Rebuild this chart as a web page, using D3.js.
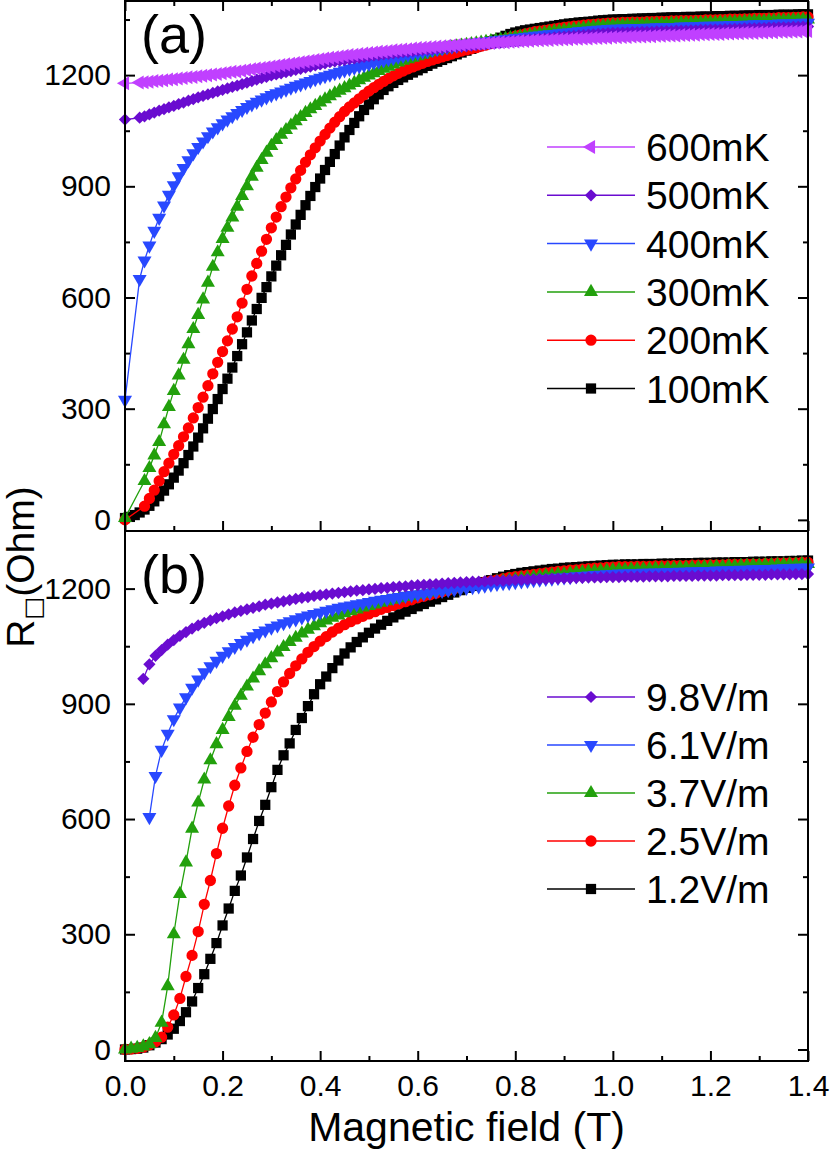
<!DOCTYPE html>
<html>
<head>
<meta charset="utf-8">
<script src="https://cdn.jsdelivr.net/npm/d3@7"></script>
<style>
  body { margin: 0; background: #fff; }
  svg text { font-family: "Liberation Sans", Arial, Helvetica, sans-serif; fill: #000; }
</style>
</head>
<body>
<svg id="chart" width="830" height="1154"></svg>
<script>
// ---------------------------------------------------------------------------
// Data (field in T, resistance in Ohm; null = no point)
// ---------------------------------------------------------------------------

// panel (a): temperature series
const fieldA = [
    0, 0.01, 0.02, 0.03, 0.04, 0.05, 0.06, 0.07, 0.08, 0.09,
    0.10, 0.11, 0.12, 0.13, 0.14, 0.15, 0.16, 0.17, 0.18, 0.19,
    0.20, 0.21, 0.22, 0.23, 0.24, 0.25, 0.26, 0.27, 0.28, 0.29,
    0.30, 0.31, 0.32, 0.33, 0.34, 0.35, 0.36, 0.37, 0.38, 0.39,
    0.40, 0.41, 0.42, 0.43, 0.44, 0.45, 0.46, 0.47, 0.48, 0.49,
    0.50, 0.51, 0.52, 0.53, 0.54, 0.55, 0.56, 0.57, 0.58, 0.59,
    0.60, 0.61, 0.62, 0.63, 0.64, 0.65, 0.66, 0.67, 0.68, 0.69,
    0.70, 0.71, 0.72, 0.73, 0.74, 0.75, 0.76, 0.77, 0.78, 0.79,
    0.80, 0.81, 0.82, 0.83, 0.84, 0.85, 0.86, 0.87, 0.88, 0.89,
    0.90, 0.91, 0.92, 0.93, 0.94, 0.95, 0.96, 0.97, 0.98, 0.99,
    1.00, 1.01, 1.02, 1.03, 1.04, 1.05, 1.06, 1.07, 1.08, 1.09,
    1.10, 1.11, 1.12, 1.13, 1.14, 1.15, 1.16, 1.17, 1.18, 1.19,
    1.20, 1.21, 1.22, 1.23, 1.24, 1.25, 1.26, 1.27, 1.28, 1.29,
    1.30, 1.31, 1.32, 1.33, 1.34, 1.35, 1.36, 1.37, 1.38, 1.39,
    1.40
];

const r100mK = [
    5, 8, 13, 20, 28, 38, 50, 64, 79, 96,
    114, 133, 153, 175, 198, 222, 247, 273, 299, 326,
    353, 381, 411, 442, 474, 506, 538, 569, 599, 628,
    657, 686, 714, 742, 770, 797, 823, 849, 874, 898,
    921, 944, 966, 987, 1010, 1032, 1052, 1071, 1089, 1106,
    1121, 1135, 1148, 1160, 1170, 1179, 1187, 1194, 1201, 1207,
    1213, 1219, 1225, 1231, 1236, 1241, 1246, 1251, 1256, 1261,
    1266, 1271, 1276, 1281, 1286, 1291, 1296, 1301, 1306, 1311,
    1315, 1318, 1321, 1323, 1325, 1327, 1329, 1331, 1333, 1335,
    1337, 1339, 1340, 1342, 1343, 1344, 1345, 1347, 1348, 1349,
    1350, 1350, 1351, 1351, 1352, 1352, 1353, 1353, 1354, 1354,
    1355, 1355, 1356, 1356, 1356, 1357, 1357, 1357, 1358, 1358,
    1358, 1359, 1359, 1359, 1360, 1360, 1360, 1361, 1361, 1361,
    1362, 1362, 1362, 1362, 1363, 1363, 1363, 1363, 1364, 1364,
    1364
];

const r200mK = [
    0, null, null, null, 37, 58, 80, 105, 130, 153,
    177, 200, 224, 248, 275, 303, 331, 362, 394, 425,
    454, 483, 515, 548, 585, 622, 658, 692, 725, 757,
    788, 817, 845, 871, 896, 920, 943, 965, 985, 1004,
    1022, 1040, 1057, 1073, 1088, 1102, 1114, 1125, 1136, 1147,
    1157, 1166, 1175, 1183, 1191, 1198, 1205, 1211, 1217, 1222,
    1227, 1232, 1237, 1241, 1245, 1249, 1253, 1257, 1261, 1265,
    1268, 1271, 1274, 1278, 1281, 1285, 1289, 1293, 1297, 1301,
    1305, 1308, 1311, 1314, 1317, 1319, 1321, 1323, 1325, 1327,
    1329, 1330, 1332, 1333, 1335, 1336, 1337, 1338, 1339, 1340,
    1341, 1341, 1342, 1342, 1343, 1343, 1343, 1344, 1344, 1345,
    1345, 1345, 1346, 1346, 1347, 1347, 1347, 1348, 1348, 1349,
    1349, 1349, 1350, 1350, 1351, 1351, 1351, 1352, 1352, 1353,
    1353, 1353, 1354, 1354, 1355, 1355, 1355, 1356, 1356, 1357,
    1357
];

const r300mK = [
    5, null, null, null, 105, 140, 174, 210, 258, 305,
    348, 390, 432, 474, 515, 553, 595, 640, 683, 722,
    758, 788, 816, 845, 874, 900, 926, 950, 971, 991,
    1009, 1025, 1039, 1052, 1064, 1076, 1087, 1098, 1108, 1117,
    1126, 1135, 1143, 1151, 1158, 1165, 1172, 1179, 1186, 1193,
    1199, 1205, 1211, 1217, 1223, 1229, 1234, 1239, 1243, 1247,
    1251, 1255, 1259, 1263, 1266, 1269, 1272, 1275, 1278, 1280,
    1282, 1284, 1286, 1288, 1290, 1292, 1294, 1296, 1298, 1300,
    1302, 1304, 1306, 1308, 1310, 1312, 1314, 1316, 1318, 1319,
    1321, 1322, 1324, 1325, 1327, 1328, 1330, 1331, 1332, 1333,
    1334, 1334, 1335, 1335, 1336, 1336, 1336, 1337, 1337, 1338,
    1338, 1338, 1339, 1339, 1340, 1340, 1340, 1341, 1341, 1342,
    1342, 1342, 1343, 1343, 1344, 1344, 1344, 1345, 1345, 1346,
    1346, 1346, 1347, 1347, 1348, 1348, 1348, 1349, 1349, 1350,
    1350
];

const r400mK = [
    324, null, null, 650, 700, 740, 780, 815, 848, 877,
    903, 927, 949, 970, 989, 1006, 1021, 1035, 1048, 1059,
    1070, 1080, 1089, 1098, 1106, 1114, 1121, 1128, 1134, 1140,
    1146, 1151, 1156, 1161, 1166, 1171, 1175, 1180, 1184, 1189,
    1193, 1197, 1201, 1205, 1209, 1213, 1217, 1220, 1224, 1227,
    1230, 1234, 1237, 1240, 1243, 1246, 1249, 1252, 1255, 1258,
    1260, 1263, 1265, 1268, 1270, 1272, 1275, 1277, 1279, 1281,
    1283, 1285, 1287, 1289, 1290, 1292, 1294, 1295, 1297, 1298,
    1300, 1301, 1303, 1304, 1306, 1307, 1309, 1310, 1311, 1313,
    1314, 1315, 1316, 1318, 1319, 1320, 1321, 1322, 1323, 1324,
    1325, 1325, 1326, 1326, 1327, 1327, 1327, 1328, 1328, 1329,
    1329, 1329, 1330, 1330, 1331, 1331, 1331, 1332, 1332, 1333,
    1333, 1333, 1334, 1334, 1335, 1335, 1335, 1336, 1336, 1337,
    1337, 1337, 1338, 1338, 1339, 1339, 1339, 1340, 1340, 1341,
    1341
];

const r500mK = [
    1080, null, null, 1085, 1089, 1094, 1099, 1104, 1108, 1113,
    1117, 1122, 1126, 1131, 1135, 1140, 1144, 1148, 1152, 1156,
    1160, 1164, 1168, 1172, 1176, 1180, 1184, 1188, 1192, 1195,
    1199, 1202, 1205, 1208, 1211, 1214, 1217, 1220, 1223, 1226,
    1229, 1232, 1235, 1237, 1239, 1241, 1243, 1245, 1247, 1249,
    1251, 1253, 1254, 1256, 1257, 1259, 1260, 1262, 1263, 1265,
    1266, 1268, 1269, 1270, 1272, 1273, 1274, 1276, 1277, 1278,
    1279, 1280, 1282, 1283, 1284, 1286, 1287, 1288, 1290, 1291,
    1292, 1293, 1295, 1296, 1297, 1298, 1299, 1300, 1302, 1303,
    1304, 1305, 1306, 1307, 1308, 1309, 1310, 1311, 1312, 1313,
    1314, 1314, 1315, 1315, 1316, 1316, 1317, 1317, 1317, 1318,
    1318, 1319, 1319, 1320, 1320, 1320, 1321, 1321, 1322, 1322,
    1323, 1323, 1323, 1324, 1324, 1325, 1325, 1326, 1326, 1326,
    1327, 1327, 1328, 1328, 1329, 1329, 1329, 1330, 1330, 1331,
    1331
];

const r600mK = [
    1178, null, null, 1180, 1181, 1182, 1184, 1185, 1186, 1188,
    1189, 1191, 1192, 1194, 1195, 1197, 1198, 1200, 1202, 1203,
    1205, 1207, 1209, 1210, 1212, 1214, 1216, 1218, 1219, 1221,
    1223, 1225, 1227, 1229, 1231, 1233, 1235, 1237, 1239, 1241,
    1243, 1245, 1247, 1248, 1250, 1252, 1254, 1255, 1257, 1258,
    1260, 1261, 1263, 1264, 1265, 1267, 1268, 1269, 1270, 1272,
    1273, 1274, 1275, 1276, 1277, 1278, 1279, 1280, 1281, 1282,
    1283, 1284, 1285, 1285, 1286, 1287, 1288, 1289, 1289, 1290,
    1291, 1292, 1292, 1293, 1294, 1294, 1295, 1295, 1296, 1296,
    1297, 1297, 1298, 1298, 1299, 1299, 1300, 1300, 1301, 1301,
    1302, 1302, 1303, 1303, 1304, 1304, 1304, 1305, 1305, 1306,
    1306, 1307, 1307, 1307, 1308, 1308, 1309, 1309, 1310, 1310,
    1311, 1311, 1311, 1312, 1312, 1313, 1313, 1314, 1314, 1314,
    1315, 1315, 1316, 1316, 1317, 1317, 1317, 1318, 1318, 1319,
    1319
];

// panel (b): electric field series
const fieldB = [
    0, 0.0125, 0.025, 0.0375, 0.05, 0.0625, 0.075, 0.0875,
    0.1, 0.1125, 0.125, 0.1375, 0.15, 0.1625, 0.175, 0.1875,
    0.2, 0.2125, 0.225, 0.2375, 0.25, 0.2625, 0.275, 0.2875,
    0.3, 0.3125, 0.325, 0.3375, 0.35, 0.3625, 0.375, 0.3875,
    0.4, 0.4125, 0.425, 0.4375, 0.45, 0.4625, 0.475, 0.4875,
    0.5, 0.5125, 0.525, 0.5375, 0.55, 0.5625, 0.575, 0.5875,
    0.6, 0.6125, 0.625, 0.6375, 0.65, 0.6625, 0.675, 0.6875,
    0.7, 0.7125, 0.725, 0.7375, 0.75, 0.7625, 0.775, 0.7875,
    0.8, 0.8125, 0.825, 0.8375, 0.85, 0.8625, 0.875, 0.8875,
    0.9, 0.9125, 0.925, 0.9375, 0.95, 0.9625, 0.975, 0.9875,
    1.0, 1.0125, 1.025, 1.0375, 1.05, 1.0625, 1.075, 1.0875,
    1.1, 1.1125, 1.125, 1.1375, 1.15, 1.1625, 1.175, 1.1875,
    1.2, 1.2125, 1.225, 1.2375, 1.25, 1.2625, 1.275, 1.2875,
    1.3, 1.3125, 1.325, 1.3375, 1.35, 1.3625, 1.375, 1.3875,
    1.4
];

const r1p2Vm = [
    0, 1, 2, 5, 11, 18, 27, 39,
    54, 74, 97, 125, 160, 196, 236, 277,
    323, 367, 413, 453, 500, 548, 595, 637,
    683, 728, 766, 797, 832, 863, 894, 925,
    951, 971, 993, 1013, 1031, 1047, 1061, 1073,
    1085, 1096, 1106, 1116, 1125, 1133, 1140, 1147,
    1154, 1160, 1166, 1172, 1178, 1184, 1190, 1196,
    1202, 1207, 1212, 1217, 1222, 1227, 1231, 1235,
    1238, 1241, 1243, 1245, 1247, 1249, 1251, 1252,
    1254, 1255, 1256, 1257, 1258, 1259, 1260, 1261,
    1262, 1262, 1263, 1263, 1263, 1264, 1264, 1264,
    1265, 1265, 1265, 1266, 1266, 1266, 1267, 1267,
    1267, 1268, 1268, 1268, 1269, 1269, 1269, 1270,
    1270, 1270, 1271, 1271, 1271, 1272, 1272, 1273,
    1273
];

const r2p5Vm = [
    0, 1, 3, 6, 12, 20, 32, 58,
    90, 133, 190, 245, 307, 378, 440, 510,
    576, 634, 688, 733, 776, 813, 846, 876,
    905, 932, 957, 979, 999, 1017, 1034, 1049,
    1063, 1075, 1087, 1097, 1106, 1114, 1121, 1128,
    1134, 1140, 1146, 1151, 1156, 1161, 1166, 1171,
    1176, 1180, 1184, 1188, 1192, 1196, 1200, 1204,
    1207, 1210, 1214, 1217, 1220, 1223, 1226, 1229,
    1231, 1233, 1235, 1237, 1239, 1241, 1243, 1245,
    1246, 1248, 1249, 1251, 1252, 1253, 1254, 1255,
    1256, 1257, 1257, 1257, 1258, 1258, 1258, 1259,
    1259, 1259, 1260, 1260, 1260, 1261, 1261, 1261,
    1262, 1262, 1262, 1263, 1263, 1263, 1264, 1264,
    1264, 1265, 1265, 1266, 1266, 1267, 1267, 1268,
    1268
];

const r3p7Vm = [
    0, 2, 4, 8, 14, 30, 70, 165,
    300, 405, 487, 575, 643, 703, 753, 795,
    832, 866, 895, 921, 945, 966, 985, 1003,
    1019, 1034, 1048, 1061, 1072, 1083, 1093, 1102,
    1110, 1117, 1124, 1130, 1136, 1141, 1146, 1151,
    1155, 1159, 1163, 1167, 1171, 1175, 1178, 1181,
    1184, 1187, 1190, 1193, 1196, 1198, 1201, 1203,
    1206, 1208, 1211, 1213, 1216, 1218, 1220, 1222,
    1224, 1226, 1228, 1230, 1232, 1234, 1235, 1237,
    1238, 1240, 1241, 1243, 1244, 1245, 1246, 1247,
    1248, 1249, 1249, 1250, 1250, 1251, 1251, 1252,
    1252, 1253, 1253, 1254, 1254, 1255, 1255, 1256,
    1256, 1257, 1257, 1258, 1258, 1259, 1259, 1260,
    1260, 1261, 1261, 1262, 1262, 1263, 1263, 1264,
    1264
];

const r6p1Vm = [
    null, null, null, null, 605, 712, 780, 822,
    860, 890, 917, 942, 963, 982, 998, 1012,
    1025, 1037, 1048, 1058, 1067, 1076, 1084, 1091,
    1098, 1104, 1110, 1115, 1120, 1125, 1130, 1134,
    1138, 1142, 1146, 1150, 1153, 1156, 1159, 1162,
    1165, 1168, 1171, 1173, 1176, 1178, 1181, 1183,
    1185, 1187, 1190, 1192, 1194, 1196, 1198, 1200,
    1202, 1204, 1206, 1208, 1210, 1212, 1214, 1215,
    1217, 1219, 1220, 1222, 1223, 1225, 1226, 1228,
    1229, 1230, 1232, 1233, 1234, 1235, 1236, 1237,
    1238, 1239, 1239, 1240, 1240, 1241, 1241, 1242,
    1242, 1243, 1243, 1244, 1244, 1245, 1245, 1246,
    1246, 1247, 1247, 1248, 1248, 1249, 1249, 1250,
    1250, 1251, 1251, 1252, 1253, 1253, 1254, 1254,
    1255
];

const r9p8Vm = [
    null, null, null, 965, 1003, 1025, 1040, 1054,
    1066, 1077, 1087, 1096, 1104, 1111, 1117, 1123,
    1128, 1133, 1138, 1142, 1146, 1150, 1154, 1158,
    1161, 1164, 1167, 1170, 1173, 1176, 1178, 1181,
    1183, 1185, 1187, 1189, 1191, 1193, 1195, 1196,
    1198, 1199, 1201, 1202, 1204, 1205, 1206, 1208,
    1209, 1210, 1211, 1212, 1213, 1214, 1215, 1216,
    1217, 1218, 1218, 1219, 1220, 1221, 1221, 1222,
    1223, 1223, 1224, 1224, 1225, 1225, 1226, 1226,
    1227, 1227, 1228, 1228, 1229, 1229, 1229, 1230,
    1230, 1230, 1231, 1231, 1231, 1231, 1232, 1232,
    1232, 1232, 1233, 1233, 1233, 1233, 1234, 1234,
    1234, 1234, 1235, 1235, 1235, 1235, 1236, 1236,
    1236, 1236, 1237, 1237, 1237, 1237, 1238, 1238,
    1238
];

// tick values
const xMajorTicks = [0, 0.2, 0.4, 0.6, 0.8, 1.0, 1.2, 1.4];
const xMinorTicks = [0.1, 0.3, 0.5, 0.7, 0.9, 1.1, 1.3];
const yMajorTicks = [0, 300, 600, 900, 1200];
const yMinorTicksA = [150, 450, 750, 1050, 1350];
const yMinorTicksB = [150, 450, 750, 1050];

// series, in drawing order (legend lists them reversed)
const seriesA = [
    {name: '100mK', field: fieldA, values: r100mK, color: '#000000', marker: 'square'},
    {name: '200mK', field: fieldA, values: r200mK, color: '#ff0000', marker: 'circle'},
    {name: '300mK', field: fieldA, values: r300mK, color: '#22a00c', marker: 'triangleUp'},
    {name: '400mK', field: fieldA, values: r400mK, color: '#2848ff', marker: 'triangleDown'},
    {name: '500mK', field: fieldA, values: r500mK, color: '#6a0cd0', marker: 'diamond'},
    {name: '600mK', field: fieldA, values: r600mK, color: '#c040ff', marker: 'triangleLeft'}
];

const seriesB = [
    {name: '1.2V/m', field: fieldB, values: r1p2Vm, color: '#000000', marker: 'square'},
    {name: '2.5V/m', field: fieldB, values: r2p5Vm, color: '#ff0000', marker: 'circle'},
    {name: '3.7V/m', field: fieldB, values: r3p7Vm, color: '#22a00c', marker: 'triangleUp'},
    {name: '6.1V/m', field: fieldB, values: r6p1Vm, color: '#2848ff', marker: 'triangleDown'},
    {name: '9.8V/m', field: fieldB, values: r9p8Vm, color: '#6a0cd0', marker: 'diamond'}
];

// ---------------------------------------------------------------------------
// Layout
// ---------------------------------------------------------------------------

const FONT = '"Liberation Sans", Arial, Helvetica, sans-serif';
const plotLeft = 125;
const plotRight = 808;
const panelA = {top: 1, bottom: 531};
const panelB = {top: 531, bottom: 1061};

const svg = d3.select('#chart');

const x = d3.scaleLinear().domain([0, 1.4]).range([plotLeft, plotRight]);
const yA = d3.scaleLinear().domain([-30, 1400]).range([panelA.bottom, panelA.top]);
const yB = d3.scaleLinear().domain([-30, 1350]).range([panelB.bottom, panelB.top]);

// marker shapes: d3 symbol + rotation
const markers = {
    square:       {gen: d3.symbol().type(d3.symbolSquare).size(105), rot: 0},
    circle:       {gen: d3.symbol().type(d3.symbolCircle).size(100), rot: 0},
    triangleUp:   {gen: d3.symbol().type(d3.symbolTriangle).size(85), rot: 0},
    triangleDown: {gen: d3.symbol().type(d3.symbolTriangle).size(85), rot: 180},
    diamond:      {gen: d3.symbol().type(d3.symbolSquare).size(75), rot: 45},
    triangleLeft: {gen: d3.symbol().type(d3.symbolTriangle).size(85), rot: -90}
};

const styleAxis = (g) => {
    g.select('.domain').remove();
    g.selectAll('.tick line').attr('stroke', '#000').attr('stroke-width', 2);
    g.selectAll('.tick text')
        .attr('font-family', FONT)
        .attr('font-size', 30)
        .attr('fill', '#000');
};

const drawPanel = function drawPanel(series, y, panel, minorY, showXLabels) {
    const g = svg.append('g');

    // left axis: labels outside, ticks pointing inward
    g.append('g')
        .attr('transform', 'translate(' + plotLeft + ',0)')
        .call(d3.axisLeft(y).tickValues(yMajorTicks).tickSize(-10).tickPadding(14)
            .tickFormat(d3.format('d')))
        .call(styleAxis);
    g.append('g')
        .attr('transform', 'translate(' + plotLeft + ',0)')
        .call(d3.axisLeft(y).tickValues(minorY).tickSize(-5).tickFormat(() => ''))
        .call(styleAxis);

    // right axis
    g.append('g')
        .attr('transform', 'translate(' + plotRight + ',0)')
        .call(d3.axisRight(y).tickValues(yMajorTicks).tickSize(-10).tickFormat(() => ''))
        .call(styleAxis);
    g.append('g')
        .attr('transform', 'translate(' + plotRight + ',0)')
        .call(d3.axisRight(y).tickValues(minorY).tickSize(-5).tickFormat(() => ''))
        .call(styleAxis);

    // bottom axis, ticks pointing up
    g.append('g')
        .attr('transform', 'translate(0,' + panel.bottom + ')')
        .call(d3.axisBottom(x).tickValues(xMajorTicks).tickSize(-10).tickPadding(14)
            .tickFormat(showXLabels ? d3.format('.1f') : () => ''))
        .call(styleAxis);
    g.append('g')
        .attr('transform', 'translate(0,' + panel.bottom + ')')
        .call(d3.axisBottom(x).tickValues(xMinorTicks).tickSize(-5).tickFormat(() => ''))
        .call(styleAxis);

    // series: thin line + markers
    const line = d3.line()
        .x((d) => x(d.b))
        .y((d) => y(d.r));

    series.forEach((s) => {
        const pts = s.field
            .map((b, i) => ({b: b, r: s.values[i]}))
            .filter((d) => d.r !== null);

        const sg = g.append('g').attr('class', 'series');
        sg.append('path')
            .attr('d', line(pts))
            .attr('fill', 'none')
            .attr('stroke', s.color)
            .attr('stroke-width', 1.3);

        const m = markers[s.marker];
        sg.selectAll('path.pt')
            .data(pts)
            .enter()
        .append('path')
            .attr('class', 'pt')
            .attr('d', m.gen())
            .attr('transform', (d) => 'translate(' + x(d.b) + ',' + y(d.r) + ') rotate(' + m.rot + ')')
            .attr('fill', s.color);
    });

    // frame
    g.append('rect')
        .attr('x', plotLeft)
        .attr('y', panel.top)
        .attr('width', plotRight - plotLeft)
        .attr('height', panel.bottom - panel.top)
        .attr('fill', 'none')
        .attr('stroke', '#000')
        .attr('stroke-width', 2);

    return g;
};

const drawLegend = function drawLegend(series, top, step) {
    const rows = series.slice().reverse();
    const lg = svg.append('g').attr('class', 'legend');

    rows.forEach((s, i) => {
        const cy = top + i * step;
        const m = markers[s.marker];
        lg.append('line')
            .attr('x1', 547).attr('x2', 635)
            .attr('y1', cy).attr('y2', cy)
            .attr('stroke', s.color)
            .attr('stroke-width', 1.5);
        lg.append('path')
            .attr('d', m.gen())
            .attr('transform', 'translate(591,' + cy + ') rotate(' + m.rot + ')')
            .attr('fill', s.color);
        lg.append('text')
            .attr('x', 646)
            .attr('y', cy + 14)
            .attr('font-family', FONT)
            .attr('font-size', 39)
            .text(s.name);
    });
};

// top axis of panel (a): ticks pointing down
svg.append('g')
    .attr('transform', 'translate(0,' + panelA.top + ')')
    .call(d3.axisTop(x).tickValues(xMajorTicks).tickSize(-10).tickFormat(() => ''))
    .call(styleAxis);
svg.append('g')
    .attr('transform', 'translate(0,' + panelA.top + ')')
    .call(d3.axisTop(x).tickValues(xMinorTicks).tickSize(-5).tickFormat(() => ''))
    .call(styleAxis);

drawPanel(seriesA, yA, panelA, yMinorTicksA, false);
drawPanel(seriesB, yB, panelB, yMinorTicksB, true);

drawLegend(seriesA, 147, 48.3);
drawLegend(seriesB, 697, 48);

// panel tags
svg.append('text')
    .attr('x', 141).attr('y', 53)
    .attr('font-family', FONT).attr('font-size', 54)
    .text('(a)');
svg.append('text')
    .attr('x', 141).attr('y', 593)
    .attr('font-family', FONT).attr('font-size', 54)
    .text('(b)');

// axis titles
svg.append('text')
    .attr('x', (plotLeft + plotRight) / 2)
    .attr('y', 1141)
    .attr('text-anchor', 'middle')
    .attr('font-family', FONT)
    .attr('font-size', 41)
    .text('Magnetic field (T)');

const yTitle = svg.append('text')
    .attr('transform', 'translate(34,567) rotate(-90)')
    .attr('text-anchor', 'middle')
    .attr('font-family', FONT)
    .attr('font-size', 39);
yTitle.append('tspan').text('R');
yTitle.append('tspan')
    .attr('font-size', 24)
    .attr('dy', 7)
    .attr('font-family', '"DejaVu Sans", ' + FONT)
    .text('\u25A1');
yTitle.append('tspan')
    .attr('dy', -7)
    .text('(Ohm)');
</script>
</body>
</html>
